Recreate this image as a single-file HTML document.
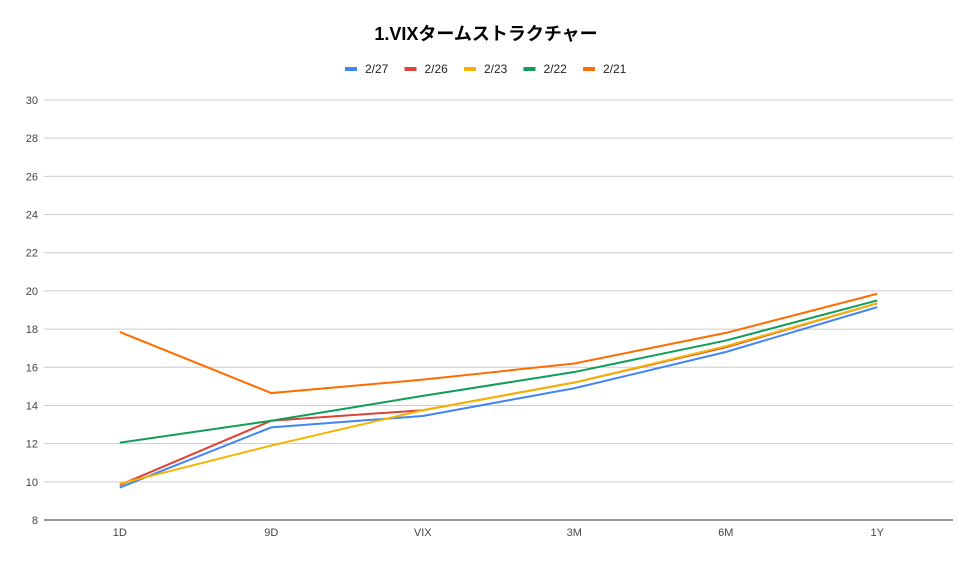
<!DOCTYPE html>
<html><head><meta charset="utf-8"><style>
body{margin:0;background:#fff;}
svg text{font-family:"Liberation Sans","Noto Sans CJK JP",sans-serif;}
</style></head><body>
<svg id="chart" width="973" height="560" xmlns="http://www.w3.org/2000/svg">
<rect width="973" height="560" fill="#fff"/>
<text x="486" y="40" text-anchor="middle" font-size="18" font-weight="bold" fill="#000">1.VIXタームストラクチャー</text>
<g id="grid"></g><g id="lines"></g><g id="legend"></g>
</svg>
<script>
const categories=["1D","9D","VIX","3M","6M","1Y"];
const seriesNames=["2/27","2/26","2/23","2/22","2/21"];
const s0=[9.7,12.85,13.45,14.9,16.8,19.15];
const s1=[9.83,13.2,13.75,15.2,17.05,19.35];
const s2=[9.9,11.9,13.75,15.2,17.1,19.35];
const s3=[12.05,13.2,14.5,15.75,17.4,19.5];
const s4=[17.85,14.65,15.35,16.2,17.8,19.85];
const yTicks=[8,10,12,14,16,18,20,22,24,26,28,30];
const colors=["#4285f4","#db4437","#f4b400","#0f9d58","#ff6d01"];
const series=[s0,s1,s2,s3,s4];
const NS="http://www.w3.org/2000/svg";
const L=44,R=953,T=100,B=520,ymin=8,ymax=30;
const y=v=>B-(v-ymin)/(ymax-ymin)*(B-T);
const step=(R-L)/categories.length;
const x=i=>L+step*(i+0.5);
function mk(t,a,p){const e=document.createElementNS(NS,t);for(const k in a)e.setAttribute(k,a[k]);p.appendChild(e);return e;}
const grid=document.getElementById('grid');
yTicks.forEach(v=>{
 const l=mk('line',{x1:L,x2:R,y1:y(v),y2:y(v),stroke:v===ymin?'#333':'#ccc','stroke-width':1},grid);
 
 
 const t=mk('text',{x:38,y:y(v)+4,'text-anchor':'end','font-size':11,fill:'#444'},grid);
 t.textContent=v;
 
 
});
categories.forEach((c,i)=>{
 const t=mk('text',{x:x(i),y:536,'text-anchor':'middle','font-size':11,fill:'#444'},grid);
 t.textContent=c;
 
 
});
const lines=document.getElementById('lines');
series.forEach((s,k)=>{
 const p=mk('polyline',{points:s.map((v,i)=>x(i)+','+y(v)).join(' '),fill:'none',stroke:colors[k],'stroke-width':2},lines);
 
 
});
const lg=document.getElementById('legend');
seriesNames.forEach((n,k)=>{
 const lx=345+k*59.5;
 const r=mk('rect',{x:lx,y:67,width:12,height:4,fill:colors[k]},lg);
 
 
 const t=mk('text',{x:lx+20,y:73,'font-size':12,fill:'#222'},lg);
 t.textContent=n;
 
 
});
</script>
</body></html>
